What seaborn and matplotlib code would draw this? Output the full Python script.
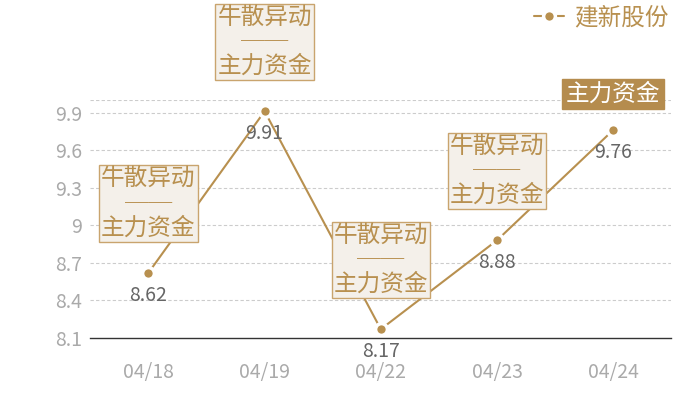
import matplotlib
matplotlib.use('Agg')
import matplotlib.pyplot as plt
import seaborn as sns
import pandas as pd

##################################################################
dates = ['04/18', '04/19', '04/22', '04/23', '04/24']
prices = [8.62, 9.91, 8.17, 8.88, 9.76]
series_name = '建新股份'
box_labels = ['牛散异动\n──\n主力资金', '牛散异动\n──\n主力资金', '牛散异动\n──\n主力资金',
              '牛散异动\n──\n主力资金', '主力资金']
yticks = [8.1, 8.4, 8.7, 9.0, 9.3, 9.6, 9.9]
ytick_labels = ['8.1', '8.4', '8.7', '9', '9.3', '9.6', '9.9']
##################################################################

sns.set_style('white')
plt.rcParams['font.family'] = ['Noto Sans CJK SC', 'DejaVu Sans']

gold = '#b8904f'
gray_tick = '#aaaaaa'

df = pd.DataFrame({'date': dates, 'price': prices, 'name': series_name})

fig = plt.figure(figsize=[7, 4], dpi=100)
ax = fig.add_axes([0.129, 0.155, 0.83, 0.595])

sns.lineplot(data=df, x='date', y='price', hue='name', palette=[gold], ax=ax,
             marker='o', markersize=8.5, markeredgecolor='white', markeredgewidth=2.5,
             linewidth=1.5, sort=False)

ax.set_xlim(-0.5, len(dates) - 0.5)
ax.set_ylim(8.1, 10.0)
ax.set_yticks(yticks, ytick_labels)
for y in yticks + [10.0]:
    if y > 8.1:
        ax.axhline(y, color='#cccccc', linestyle=(0, (3, 2)), linewidth=0.8, zorder=0)

for s in ['top', 'right', 'left']:
    ax.spines[s].set_visible(False)
ax.spines['bottom'].set_color('#333333')
ax.spines['bottom'].set_linewidth(1.0)
ax.tick_params(axis='both', length=0, labelsize=14, labelcolor=gray_tick)
ax.tick_params(axis='x', pad=17)
ax.tick_params(axis='y', pad=6)
ax.set_xlabel('')
ax.set_ylabel('')

# value labels under points
for i, v in enumerate(prices):
    ax.annotate('%.2f' % v, (i, v), xytext=(0, -16), textcoords='offset points',
                ha='center', va='center', fontsize=14, color='#666666')

# annotation boxes above points
for i, (v, lab) in enumerate(zip(prices, box_labels)):
    if i == len(prices) - 1:
        ax.annotate(lab, (i, v), xytext=(0, 26), textcoords='offset points',
                    ha='center', va='center', fontsize=17, color='white',
                    bbox=dict(boxstyle='square,pad=0.15', fc='#b58c4e', ec='#b58c4e'),
                    annotation_clip=False)
    else:
        ax.annotate(lab, (i, v), xytext=(0, 50), textcoords='offset points',
                    ha='center', va='center', fontsize=17, color=gold, linespacing=1.1,
                    fontweight='medium',
                    bbox=dict(boxstyle='square,pad=0.08', fc='#f4f0ea', ec='#c9a46e', lw=1),
                    annotation_clip=False, zorder=5)

leg = ax.legend(loc='center right', bbox_to_anchor=(1.015, 1.345), frameon=False,
                fontsize=17, handlelength=1.3, handletextpad=0.4, borderpad=0)
for t in leg.get_texts():
    t.set_color(gold)

plt.savefig('out.png', dpi=100)
